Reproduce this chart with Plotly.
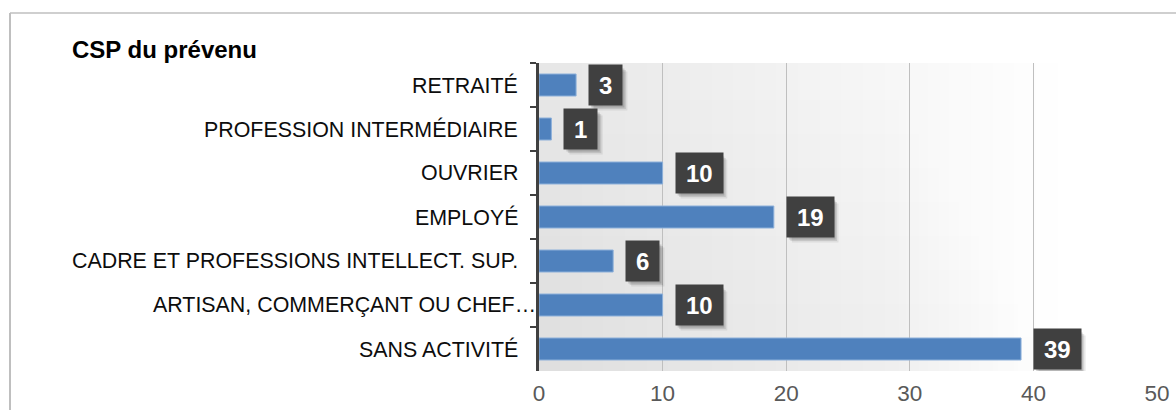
import plotly.graph_objects as go

# Catégories socio-professionnelles (de haut en bas) et effectifs
categories = [
    "RETRAITÉ",
    "PROFESSION INTERMÉDIAIRE",
    "OUVRIER",
    "EMPLOYÉ",
    "CADRE ET PROFESSIONS INTELLECT. SUP.",
    "ARTISAN, COMMERÇANT OU CHEF…",
    "SANS ACTIVITÉ",
]
effectifs = [3, 1, 10, 19, 6, 10, 39]
x_ticks = [0, 10, 20, 30, 40, 50]
title_text = "CSP du prévenu"

W, H = 1176, 410
ML, MR, MT, MB = 539, 19, 63, 39
PW = W - ML - MR
PH = H - MT - MB
FONT = "Liberation Sans, Arial, sans-serif"
BAR_COLOR = "#4F81BD"


def px_to_paper_x(px):
    return (px - ML) / PW


def px_to_paper_y(py):
    return 1 - (py - MT) / PH


fig = go.Figure()

fig.add_trace(go.Bar(
    x=effectifs,
    y=categories,
    orientation="h",
    width=0.5,
    marker=dict(color=BAR_COLOR, line=dict(color="#8DB0DA", width=1)),
    hoverinfo="x+y",
))

shapes = []

# soft shading of the plot area, fading out towards the right and the top
n_layers = 24
for k in range(1, n_layers + 1):
    shapes.append(dict(
        type="rect", xref="x", yref="paper", layer="below",
        x0=0, x1=42 * k / n_layers, y0=0, y1=1,
        fillcolor="rgba(0,0,0,0.0036)", line=dict(width=0),
    ))
for k in range(1, 9):
    shapes.append(dict(
        type="rect", xref="x", yref="paper", layer="below",
        x0=0, x1=42 - 1.6 * k, y0=0, y1=0.11 * k,
        fillcolor="rgba(0,0,0,0.004)", line=dict(width=0),
    ))

# outer chart frame (top and left edges)
shapes.append(dict(
    type="line", xref="paper", yref="paper",
    x0=px_to_paper_x(10), x1=px_to_paper_x(W + 5),
    y0=px_to_paper_y(13), y1=px_to_paper_y(13),
    line=dict(color="#BFBFBF", width=1.5),
))
shapes.append(dict(
    type="line", xref="paper", yref="paper",
    x0=px_to_paper_x(10), x1=px_to_paper_x(10),
    y0=px_to_paper_y(13), y1=px_to_paper_y(H + 5),
    line=dict(color="#BFBFBF", width=2),
))

annotations = []

# category labels
for cat in categories:
    shift = -1 if cat.endswith("…") else -19
    annotations.append(dict(
        x=0, xref="paper", y=cat, yref="y",
        text=cat, showarrow=False, xanchor="right", yanchor="middle",
        xshift=shift, font=dict(family=FONT, size=21.4, color="#0D0D0D"),
    ))

# value labels in dark boxes with a soft drop shadow
LABEL_SIZE = 24
LABEL_GAP = 12
PAD = 6.5
BOX_H = 39
for i, (cat, v) in enumerate(zip(categories, effectifs)):
    txt = str(v)
    text_w = len(txt) * 0.556 * LABEL_SIZE
    box_w = text_w + 20
    for off, alpha in [(6, 0.07), (4.5, 0.10), (3, 0.14)]:
        shapes.append(dict(
            type="rect", xref="x", yref="y", layer="above",
            xsizemode="pixel", ysizemode="pixel",
            xanchor=v, yanchor=i,
            x0=LABEL_GAP + off, x1=LABEL_GAP + off + box_w,
            y0=-BOX_H / 2 - off, y1=BOX_H / 2 - off,
            fillcolor=f"rgba(0,0,0,{alpha})", line=dict(width=0),
        ))
    annotations.append(dict(
        x=v, y=cat, xref="x", yref="y",
        text=f"<b>{txt}</b>", showarrow=False, xanchor="left", yanchor="middle",
        xshift=LABEL_GAP, width=box_w - 2 * PAD, borderpad=PAD,
        bgcolor="#404040",
        font=dict(family=FONT, size=LABEL_SIZE, color="#FFFFFF"),
    ))

fig.update_layout(
    width=W, height=H,
    margin=dict(l=ML, r=MR, t=MT, b=MB, pad=0, autoexpand=False),
    paper_bgcolor="white",
    plot_bgcolor="white",
    showlegend=False,
    bargap=0.5,
    title=dict(
        text=f"<b>{title_text}</b>",
        x=72 / W, xanchor="left", xref="container",
        y=1 - 50 / H, yanchor="middle", yref="container",
        font=dict(family=FONT, size=24, color="#000000"),
    ),
    xaxis=dict(
        range=[0, 50], autorange=False, automargin=False,
        tickvals=x_ticks,
        ticktext=[str(t) for t in x_ticks],
        showgrid=True, gridcolor="#BFBFBF", gridwidth=1,
        zeroline=False, showline=False,
        ticks="outside", ticklen=2, tickcolor="rgba(0,0,0,0)",
        tickfont=dict(family=FONT, size=22.5, color="#595959"),
        fixedrange=True,
    ),
    yaxis=dict(
        categoryorder="array", categoryarray=categories,
        range=[len(categories) - 0.5, -0.5], autorange=False,
        automargin=False,
        showticklabels=False,
        showgrid=False, zeroline=False,
        showline=True, linecolor="#404040", linewidth=2.5,
        ticks="outside", tickson="boundaries", ticklen=6,
        tickcolor="#404040", tickwidth=2,
        fixedrange=True,
    ),
    shapes=shapes,
    annotations=annotations,
)

fig.write_html("out.html")
